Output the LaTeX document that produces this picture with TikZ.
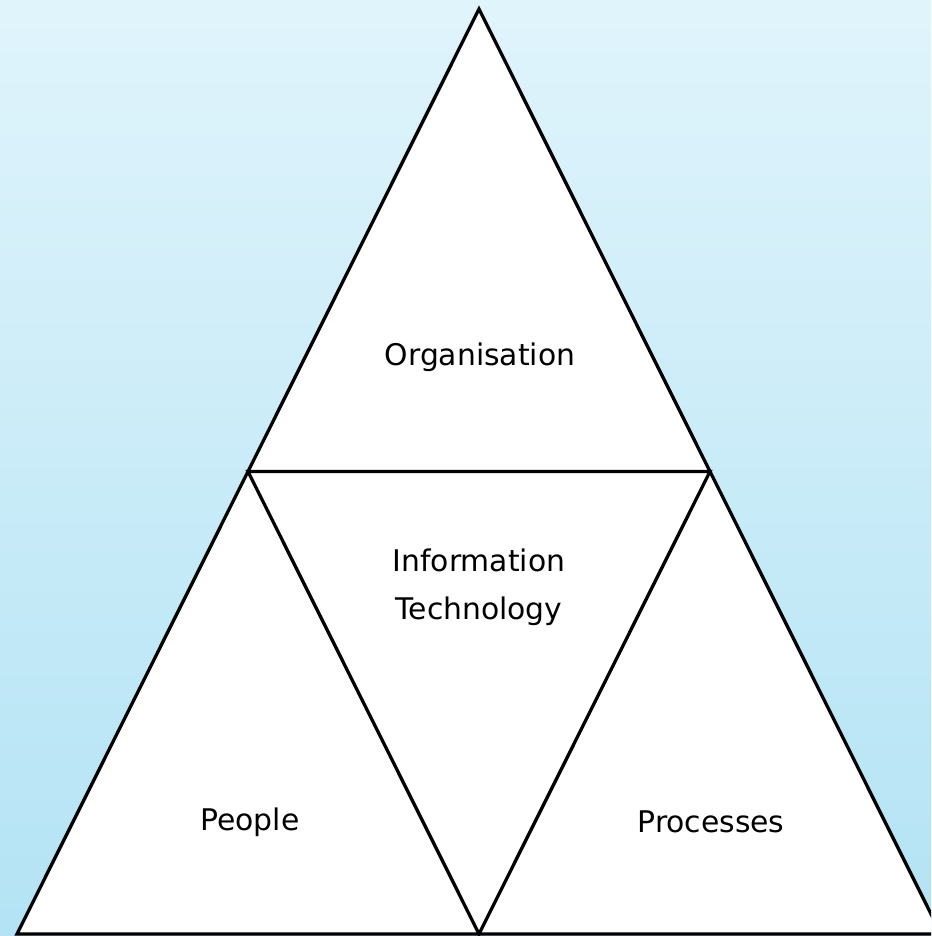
\documentclass[tikz,border=0pt]{standalone}
\usepackage{fontspec}
\setmainfont{DejaVu Sans}
\definecolor{bgtop}{HTML}{E0F4FB}
\definecolor{bgbot}{HTML}{B3E3F5}
\begin{document}
\begin{tikzpicture}[x=1pt,y=1pt,
  tri/.style={draw=black,fill=white,line width=3.3pt,line join=miter},
  lbl/.style={font=\fontsize{29.8}{48}\selectfont,align=center,text=black}]
\useasboundingbox (0,0) rectangle (931,936);
\shade[top color=bgtop,bottom color=bgbot] (0,0) rectangle (931,936);
\coordinate (A) at (479,927);
\coordinate (BL) at (17,2);
\coordinate (BR) at (941,2);
\coordinate (ML) at (248,464.5);
\coordinate (MR) at (710,464.5);
\coordinate (MB) at (479,2);
\begin{scope}
\clip (0,0) rectangle (931,936);
\draw[tri] (A) -- (BR) -- (BL) -- cycle;
\draw[tri,fill=none] (ML) -- (MR) -- (MB) -- cycle;
\end{scope}
\node[lbl] (org) at (480,579) {Organisation};
\node[lbl] (it) at (479,349) {Information\\Technology};
\node[lbl] (ppl) at (250,114) {People};
\node[lbl] (proc) at (711,114) {Processes};
\end{tikzpicture}
\end{document}
